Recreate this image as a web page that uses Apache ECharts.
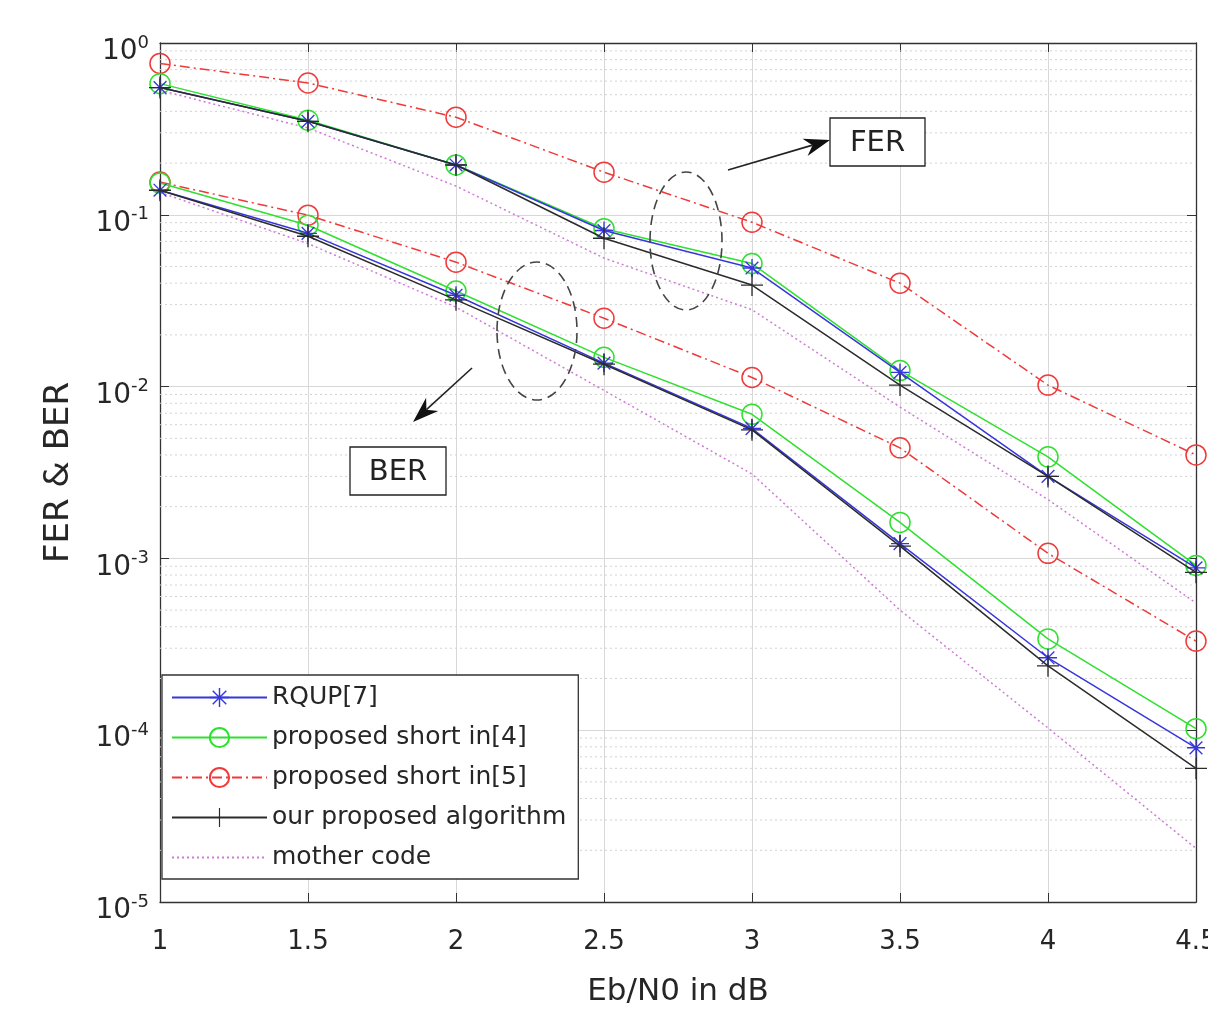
<!DOCTYPE html>
<html>
<head>
<meta charset="utf-8">
<script src="https://cdn.jsdelivr.net/npm/echarts@6/dist/echarts.min.js"></script>
<style>
  html, body { margin: 0; padding: 0; background: #fff; }
  #chart { width: 1208px; height: 1009px; }
</style>
</head>
<body>
<div id="chart"></div>
<script>
// ---- data ----
var ebn0 = [1, 1.5, 2, 2.5, 3, 3.5, 4, 4.5];
var xTicks = [1, 1.5, 2, 2.5, 3, 3.5, 4, 4.5];
var yTickExps = [-5, -4, -3, -2, -1, 0];

var rqupFER   = [0.55, 0.35, 0.195, 0.081, 0.049, 0.0121, 0.0030, 0.00088];
var short4FER = [0.58, 0.355, 0.195, 0.083, 0.052, 0.0124, 0.0039, 0.00091];
var short5FER = [0.76, 0.585, 0.37, 0.177, 0.0905, 0.040, 0.0102, 0.0040];
var oursFER   = [0.55, 0.35, 0.195, 0.073, 0.039, 0.0102, 0.0030, 0.00083];
var motherFER = [0.53, 0.32, 0.147, 0.056, 0.028, 0.0076, 0.0022, 0.00055];

var rqupBER   = [0.139, 0.078, 0.034, 0.0137, 0.0057, 0.00122, 0.000264, 0.000079];
var short4BER = [0.153, 0.087, 0.036, 0.0148, 0.0069, 0.00162, 0.00034, 0.000102];
var short5BER = [0.155, 0.0995, 0.053, 0.025, 0.0113, 0.0044, 0.00107, 0.00033];
var oursBER   = [0.139, 0.075, 0.032, 0.0135, 0.0056, 0.00118, 0.000237, 0.00006];
var motherBER = [0.135, 0.068, 0.029, 0.0095, 0.0031, 0.0005, 0.000103, 0.0000205];

var names = ['RQUP[7]', 'proposed short in[4]', 'proposed short in[5]', 'our proposed algorithm', 'mother code'];

// ---- helpers ----
var FONT = '"DejaVu Sans", Verdana, sans-serif';
function pairs(xs, ys) { return xs.map(function (x, i) { return [x, ys[i]]; }); }

function barPoly(angleDeg, L, W) {
  var a = angleDeg * Math.PI / 180, c = Math.cos(a), s = Math.sin(a);
  var pts = [[-L, -W], [L, -W], [L, W], [-L, W]].map(function (p) {
    return [(p[0] * c - p[1] * s).toFixed(3), (p[0] * s + p[1] * c).toFixed(3)];
  });
  return 'M' + pts.map(function (p) { return p[0] + ' ' + p[1]; }).join(' L') + ' Z';
}
var asteriskPath = 'path://' + [0, 45, 90, 135].map(function (a) { return barPoly(a, 10, 0.75); }).join(' ');
var plusPath = 'path://' + [0, 90].map(function (a) { return barPoly(a, 10, 0.6); }).join(' ');

var BLUE = '#3636dc', GREEN = '#2fe02f', RED = '#f03a3a', BLACK = '#2b2b2b', MAG = '#d07ad8';

function mkSeries(name, data, color, lineType, symbol, symSize, emptySym, z) {
  var s = {
    name: name, type: 'line', data: data, z: z,
    lineStyle: { color: color, width: 1.5, type: lineType },
    symbol: symbol, symbolSize: symSize, showSymbol: symbol !== 'none',
    animation: false, silent: true
  };
  if (emptySym) {
    s.itemStyle = { color: 'rgba(255,255,255,0)', borderColor: color, borderWidth: 1.5 };
  } else {
    s.itemStyle = { color: color, borderWidth: 0 };
  }
  return s;
}

// minor (2..9 x 10^k) dotted grid lines, drawn through the axes as gapped line segments
var minorGridData = [];
for (var e = -5; e < 0; e++) {
  for (var m = 2; m <= 9; m++) {
    var v = m * Math.pow(10, e);
    minorGridData.push([1, v], [4.5, v], ['-', '-']);
  }
}

var series = [
  {
    name: '__minorgrid', type: 'line', data: minorGridData, silent: true, animation: false, z: 1,
    symbol: 'none', showSymbol: false, connectNulls: false,
    lineStyle: { color: '#d2d2d2', type: [2, 3], width: 1 }
  }
];
var dashDot = [10, 4, 2, 4];
series.push(mkSeries(names[4], pairs(ebn0, motherFER), MAG, [2, 3], 'none', 0, false, 3));
series.push(mkSeries(names[4], pairs(ebn0, motherBER), MAG, [2, 3], 'none', 0, false, 3));
series.push(mkSeries(names[2], pairs(ebn0, short5FER), RED, dashDot, 'circle', 20, true, 4));
series.push(mkSeries(names[2], pairs(ebn0, short5BER), RED, dashDot, 'circle', 20, true, 4));
series.push(mkSeries(names[1], pairs(ebn0, short4FER), GREEN, 'solid', 'circle', 20, true, 5));
series.push(mkSeries(names[1], pairs(ebn0, short4BER), GREEN, 'solid', 'circle', 20, true, 5));
series.push(mkSeries(names[0], pairs(ebn0, rqupFER), BLUE, 'solid', asteriskPath, 18, false, 6));
series.push(mkSeries(names[0], pairs(ebn0, rqupBER), BLUE, 'solid', asteriskPath, 18, false, 6));
series.push(mkSeries(names[3], pairs(ebn0, oursFER), BLACK, 'solid', plusPath, 22, false, 7));
series.push(mkSeries(names[3], pairs(ebn0, oursBER), BLACK, 'solid', plusPath, 22, false, 7));

// annotations
function arrow(x1, y1, x2, y2, len, w) {
  var dx = x2 - x1, dy = y2 - y1, d = Math.sqrt(dx * dx + dy * dy);
  var ux = dx / d, uy = dy / d, nx = -uy, ny = ux;
  var bx = x2 - ux * len, by = y2 - uy * len;
  var kx = x2 - ux * len * 0.7, ky = y2 - uy * len * 0.7;
  return [
    { type: 'line', shape: { x1: x1, y1: y1, x2: kx, y2: ky }, style: { stroke: '#222', lineWidth: 1.6 }, z: 100 },
    { type: 'polygon', shape: { points: [[x2, y2], [bx + nx * w, by + ny * w], [kx, ky], [bx - nx * w, by - ny * w]] }, style: { fill: '#111' }, z: 100 }
  ];
}
function box(x, y, w, h, txt) {
  return [
    { type: 'rect', shape: { x: x, y: y, width: w, height: h }, style: { fill: '#fff', stroke: '#222', lineWidth: 1.3 }, z: 100 },
    { type: 'text', x: x + w / 2, y: y + h / 2 + 1, style: { text: txt, font: '29px ' + FONT, fill: '#222', align: 'center', verticalAlign: 'middle' }, z: 101 }
  ];
}
function ell(cx, cy, rx, ry) {
  return { type: 'ellipse', shape: { cx: cx, cy: cy, rx: rx, ry: ry }, style: { fill: 'none', stroke: '#444', lineWidth: 1.6, lineDash: [10, 6] }, z: 100 };
}
var graphics = [].concat(
  box(830, 118, 95, 48, 'FER'),
  box(350, 447, 96, 48, 'BER'),
  [ell(686, 241, 36, 69), ell(537, 331, 40, 69)],
  arrow(728, 170, 830, 140, 26, 9),
  arrow(472, 368, 413, 422, 26, 9)
);

var axisCol = '#262626';
var legendData = names.map(function (n) {
  return n === 'mother code' ? { name: n, itemStyle: { opacity: 0 } } : { name: n };
});

var option = {
  backgroundColor: '#fff',
  animation: false,
  textStyle: { fontFamily: FONT },
  grid: { left: 160, right: 12, top: 43, bottom: 107, containLabel: false, outerBoundsMode: 'none' },
  legend: {
    data: legendData,
    orient: 'vertical', left: 162, top: 675,
    backgroundColor: '#fff', borderColor: '#333', borderWidth: 1.3, borderRadius: 0,
    padding: [10, 12, 9, 9],
    itemWidth: 95, itemHeight: 24, itemGap: 15,
    textStyle: { fontSize: 25, color: axisCol, fontFamily: FONT },
    selectedMode: false, z: 50
  },
  xAxis: [
    {
      type: 'value', position: 'bottom', min: 1, max: 4.5, interval: 0.5,
      name: 'Eb/N0 in dB', nameLocation: 'middle', nameGap: 74,
      nameTextStyle: { fontSize: 31, color: axisCol, fontFamily: FONT },
      axisLine: { show: true, onZero: false, lineStyle: { color: '#333', width: 1.3 } },
      axisTick: { show: true, inside: true, length: 9, lineStyle: { color: '#333' } },
      axisLabel: { fontSize: 26, color: axisCol, margin: 27, fontFamily: FONT,
        formatter: function (v) { var i = xTicks.indexOf(v); return i >= 0 ? String(xTicks[i]) : ''; } },
      splitLine: { show: true, lineStyle: { color: '#d8d8d8', width: 1 } }
    },
    {
      type: 'value', position: 'top', min: 1, max: 4.5, interval: 0.5,
      axisLine: { show: true, onZero: false, lineStyle: { color: '#333', width: 1.3 } },
      axisTick: { show: true, inside: true, length: 9, lineStyle: { color: '#333' } },
      axisLabel: { show: false }, splitLine: { show: false }
    }
  ],
  yAxis: [
    {
      type: 'log', logBase: 10, min: 1e-5, max: 1, position: 'left',
      name: 'FER & BER', nameLocation: 'middle', nameGap: 84,
      nameTextStyle: { fontSize: 34, color: axisCol, fontFamily: FONT },
      axisLine: { show: true, onZero: false, lineStyle: { color: '#333', width: 1.3 } },
      axisTick: { show: true, inside: true, length: 9, lineStyle: { color: '#333' } },
      axisLabel: {
        margin: 11, color: axisCol, padding: [12, 0, 0, 0],
        formatter: function (v) {
          var ex = Math.round(Math.log10(v));
          if (yTickExps.indexOf(ex) < 0) return '';
          return '{b|10}{s|' + ex + '}';
        },
        rich: {
          b: { fontSize: 28, color: axisCol, fontFamily: FONT, verticalAlign: 'bottom', lineHeight: 34 },
          s: { fontSize: 18, color: axisCol, fontFamily: FONT, verticalAlign: 'bottom', lineHeight: 34, padding: [0, 0, 14, 0] }
        }
      },
      splitLine: { show: true, lineStyle: { color: '#d8d8d8', width: 1 } }
    },
    {
      type: 'log', logBase: 10, min: 1e-5, max: 1, position: 'right',
      axisLine: { show: true, onZero: false, lineStyle: { color: '#333', width: 1.3 } },
      axisTick: { show: true, inside: true, length: 9, lineStyle: { color: '#333' } },
      axisLabel: { show: false }, splitLine: { show: false }
    }
  ],
  series: series,
  graphic: graphics
};

var chart = echarts.init(document.getElementById('chart'), null, { renderer: 'canvas' });
chart.setOption(option);
</script>
</body>
</html>
